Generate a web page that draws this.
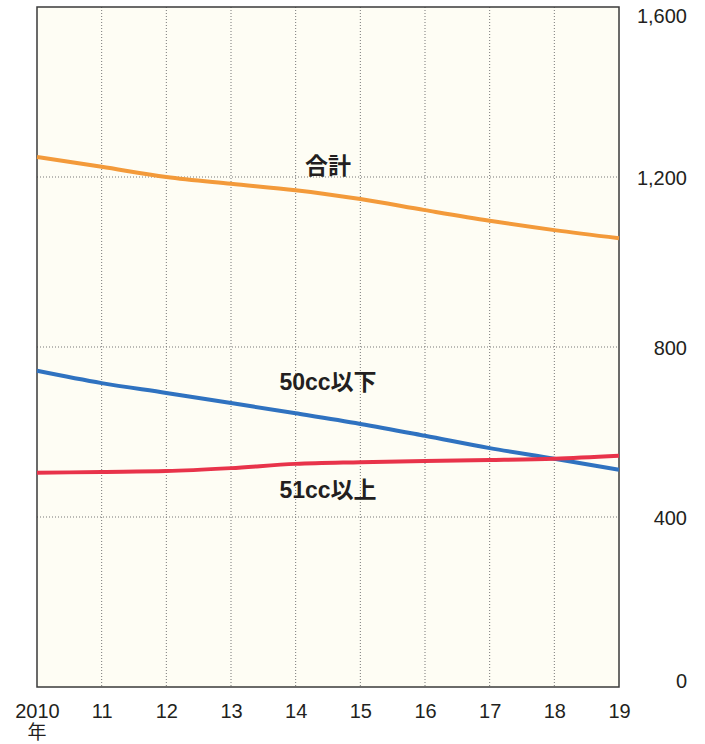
<!DOCTYPE html>
<html>
<head>
<meta charset="utf-8">
<script src="https://cdn.jsdelivr.net/npm/d3@7"></script>
<style>
	body { margin: 0; background: #fff; }
	text { font-family: "Liberation Sans", Arial, "Noto Sans CJK JP", sans-serif; }
</style>
</head>
<body>
<div id="chart"></div>
<script>
// data (thousand units)
const years = [2010, 2011, 2012, 2013, 2014, 2015, 2016, 2017, 2018, 2019];
const year_labels = ["2010", "11", "12", "13", "14", "15", "16", "17", "18", "19"];
const total = [1247, 1224, 1200, 1184, 1169, 1148, 1122, 1097, 1075, 1056];
const under50 = [744, 715, 692, 668, 644, 619, 591, 562, 537, 511];
const over51 = [504, 506, 508, 515, 525, 529, 532, 534, 537, 544];
const y_ticks = [0, 400, 800, 1200, 1600];

const series = [
	{ name: "合計", values: total, color: "#f39a3a", label_x: 2014.5, label_y: 1226 },
	{ name: "50cc以下", values: under50, color: "#2f72c0", label_x: 2014.5, label_y: 718 },
	{ name: "51cc以上", values: over51, color: "#e8334a", label_x: 2014.5, label_y: 464 },
];

const width = 705;
const height = 744;
const margin = { top: 7, right: 86, bottom: 57, left: 37 };

const svg = d3
	.select("#chart")
	.append("svg")
	.attr("width", width)
	.attr("height", height);

const x = d3
	.scaleLinear()
	.domain([2010, 2019])
	.range([margin.left, width - margin.right]);

const y = d3
	.scaleLinear()
	.domain([0, 1600])
	.range([height - margin.bottom, margin.top]);

// plot background
svg.append("rect")
	.attr("x", x(2010))
	.attr("y", y(1600))
	.attr("width", x(2019) - x(2010))
	.attr("height", y(0) - y(1600))
	.attr("fill", "#fefdf4");

// dotted grid lines
svg.append("g")
	.selectAll("line")
	.data(years.slice(1, -1))
	.join("line")
	.attr("x1", (d) => x(d))
	.attr("x2", (d) => x(d))
	.attr("y1", y(1600))
	.attr("y2", y(0))
	.attr("stroke", "#777")
	.attr("stroke-width", 1)
	.attr("stroke-dasharray", "1,2");

svg.append("g")
	.selectAll("line")
	.data(y_ticks.slice(1, -1))
	.join("line")
	.attr("x1", x(2010))
	.attr("x2", x(2019))
	.attr("y1", (d) => y(d))
	.attr("y2", (d) => y(d))
	.attr("stroke", "#777")
	.attr("stroke-width", 1)
	.attr("stroke-dasharray", "1,2");

// frame
svg.append("rect")
	.attr("x", x(2010))
	.attr("y", y(1600))
	.attr("width", x(2019) - x(2010))
	.attr("height", y(0) - y(1600))
	.attr("fill", "none")
	.attr("stroke", "#3a3a3a")
	.attr("stroke-width", 1.5);

// right axis labels
const yAxis = svg
	.append("g")
	.attr("transform", `translate(${width - 18}, 0)`)
	.call(
		d3
			.axisRight(y)
			.tickValues(y_ticks)
			.tickSize(0)
			.tickFormat(d3.format(","))
	);
yAxis.select(".domain").remove();
yAxis
	.selectAll("text")
	.attr("x", 0)
	.attr("text-anchor", "end")
	.attr("font-size", 20)
	.attr("fill", "#231f20")
	.attr("dy", (d) => (d === 1600 ? "0.75em" : d === 0 ? "0" : "0.36em"));

// bottom axis labels
const xAxis = svg
	.append("g")
	.attr("transform", `translate(0, ${y(0)})`)
	.call(
		d3
			.axisBottom(x)
			.tickValues(years)
			.tickSize(0)
			.tickFormat((d, i) => year_labels[i])
	);
xAxis.select(".domain").remove();
xAxis
	.selectAll("text")
	.attr("y", 17)
	.attr("font-size", 20)
	.attr("fill", "#231f20");

svg.append("text")
	.attr("x", x(2010))
	.attr("y", 739)
	.attr("text-anchor", "middle")
	.attr("font-size", 19)
	.attr("fill", "#231f20")
	.text("年");

// lines
const line = d3
	.line()
	.x((d, i) => x(years[i]))
	.y((d) => y(d))
	.curve(d3.curveMonotoneX);

svg.append("g")
	.selectAll("path")
	.data(series)
	.join("path")
	.attr("d", (d) => line(d.values))
	.attr("fill", "none")
	.attr("stroke", (d) => d.color)
	.attr("stroke-width", 4);

// series labels
svg.append("g")
	.selectAll("text")
	.data(series)
	.join("text")
	.attr("x", (d) => x(d.label_x))
	.attr("y", (d) => y(d.label_y))
	.attr("dy", "0.36em")
	.attr("text-anchor", "middle")
	.attr("font-size", 23)
	.attr("font-weight", "bold")
	.attr("fill", "#231f20")
	.text((d) => d.name);
</script>
</body>
</html>
